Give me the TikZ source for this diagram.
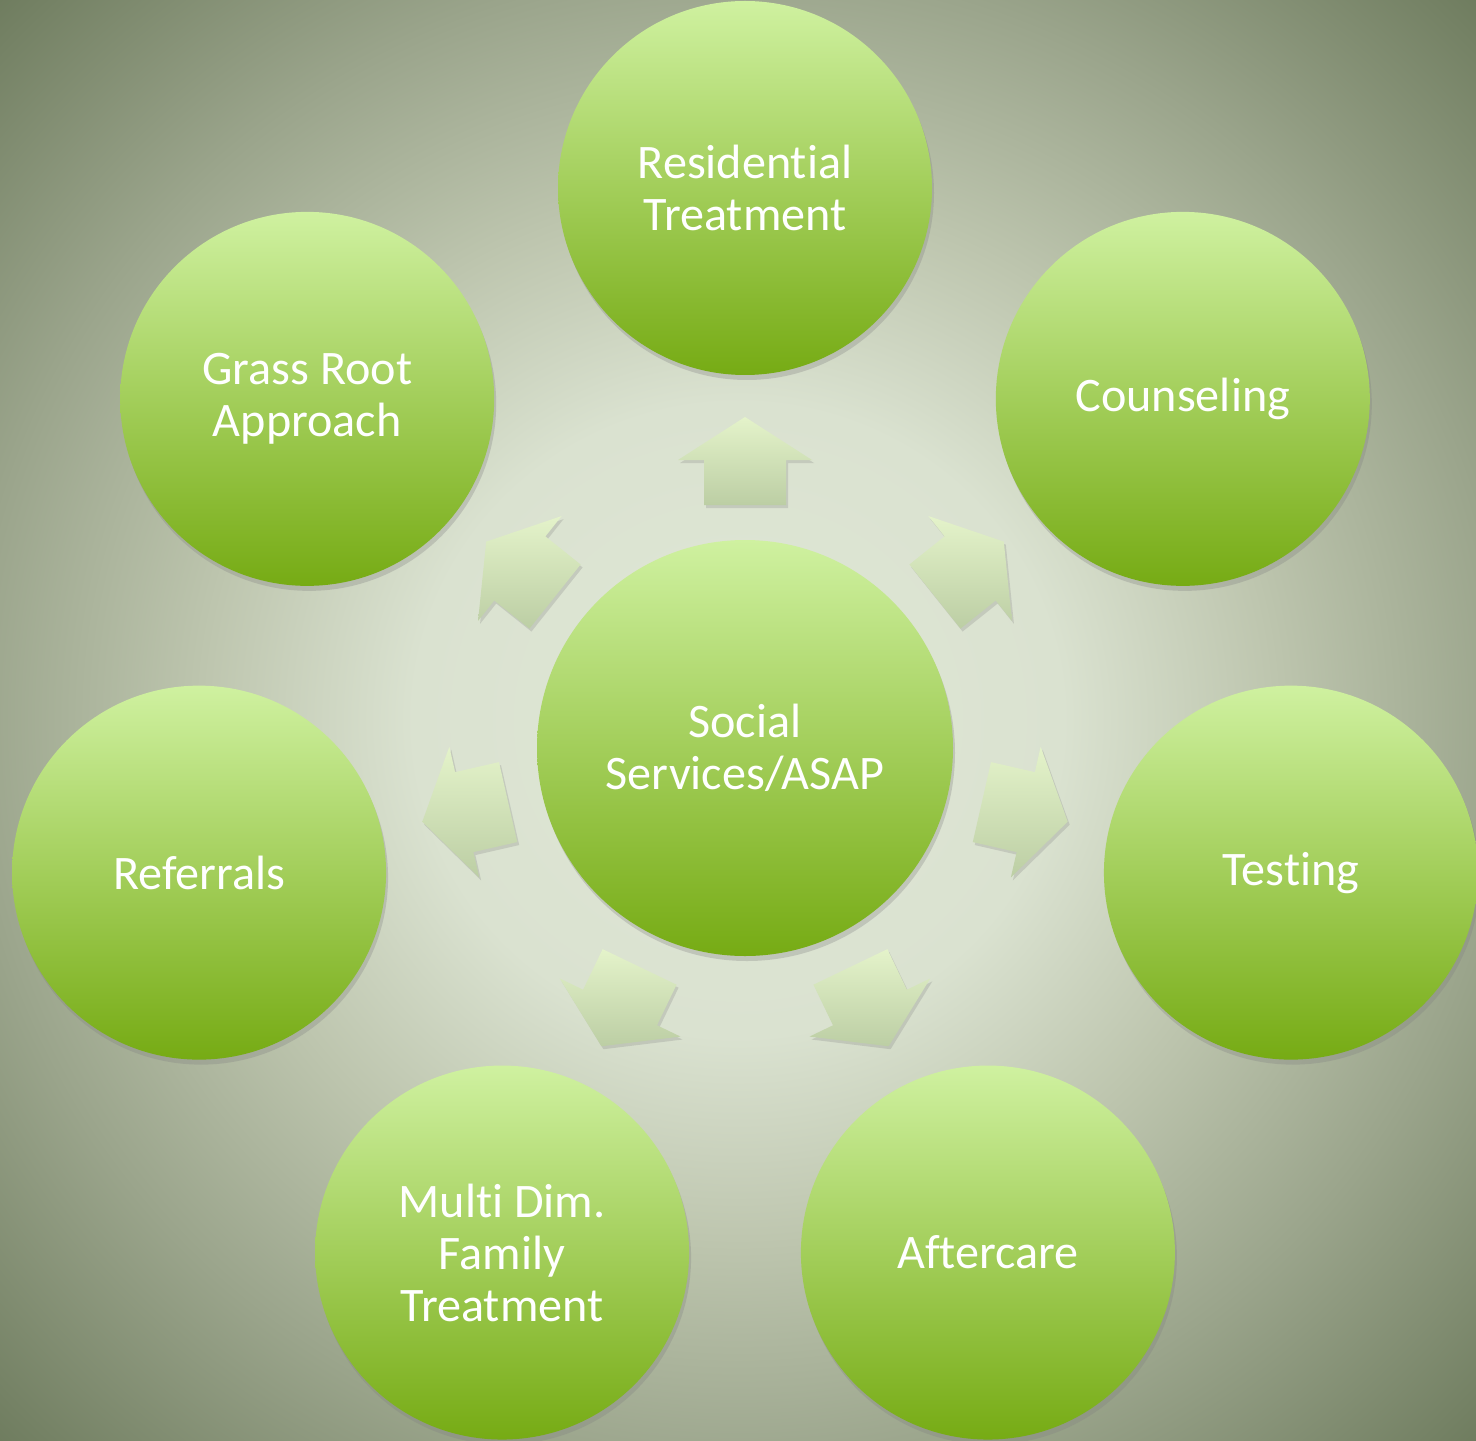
\documentclass[tikz,border=0pt]{standalone}
\usepackage{fontspec}
\setmainfont[Ligatures=NoCommon]{Carlito}
\usetikzlibrary{shadows}
%%
\definecolor{ballTop}{RGB}{207,241,160}
\definecolor{ballBottom}{RGB}{118,171,20}
\definecolor{arrowTop}{RGB}{228,243,202}
\definecolor{arrowBottom}{RGB}{188,206,164}
%% 25bp is half the width of the shaded rectangle
\pgfdeclareradialshading{bgShade}{\pgfpoint{0bp}{0bp}}{%
  rgb(0bp)=(0.878,0.906,0.839);
  rgb(11bp)=(0.855,0.886,0.816);
  rgb(18bp)=(0.745,0.776,0.686);
  rgb(26bp)=(0.608,0.647,0.549);
  rgb(36bp)=(0.424,0.478,0.361);
  rgb(50bp)=(0.424,0.478,0.361)}

\begin{document}
\begin{tikzpicture}[%%
  ballStyle/.style={circle,inner sep=0pt,align=center,text=white,%%
    font=\fontsize{13.7}{14.8}\selectfont,%%
    top color=ballTop,bottom color=ballBottom,%%
    drop shadow={shadow xshift=0.02cm,shadow yshift=-0.05cm,opacity=0.3}},%%
  hubStyle/.style={ballStyle,minimum size=2*\rhub cm},%%
  rimStyle/.style={ballStyle,minimum size=2*\rrim cm},%%
  arrowStyle/.style={top color=arrowTop,bottom color=arrowBottom,%%
    drop shadow={shadow xshift=0.02cm,shadow yshift=-0.03cm,opacity=0.25}}%%
]
%%
%%
\pgfmathsetmacro{\rhub}{2.08}  %% radius of the middle circle
\pgfmathsetmacro{\rrim}{1.87}  %% radius of the outer circles
\pgfmathsetmacro{\dist}{5.60}  %% distance from middle to outer circles
\pgfmathsetmacro{\tail}{2.43}  %% arrow: start of the shaft
\pgfmathsetmacro{\neck}{2.88}  %% arrow: start of the head
\pgfmathsetmacro{\tip}{3.31}   %% arrow: the point
\pgfmathsetmacro{\shaft}{0.41} %% arrow: half width of the shaft
\pgfmathsetmacro{\head}{0.67}  %% arrow: half width of the head
%%
%% Background: shade first.
\shade[shading=bgShade] (-7.45,-6.92) rectangle (7.31,7.48);
\useasboundingbox (-7.45,-6.92) rectangle (7.31,7.48);
%%
%% The block arrows, one for each outer circle.
\foreach \a in {90,38.57,-12.86,-64.29,-115.71,-167.14,141.43} {
  \begin{scope}[rotate=\a]
    \shade[arrowStyle] (\tail,-\shaft) -- (\neck,-\shaft) -- (\neck,-\head)
      -- (\tip,0) -- (\neck,\head) -- (\neck,\shaft) -- (\tail,\shaft) -- cycle;
  \end{scope}
}
%%
%% The middle circle.
\node[hubStyle] (hub) at (0,0) {Social\\Services/ASAP};
%%
%% The outer circles, clockwise from the top.
\node[rimStyle] (residential) at (90:\dist) {Residential\\Treatment};
\node[rimStyle] (counseling) at (38.57:\dist) {Counseling};
\node[rimStyle] (testing) at (-12.86:\dist) {Testing};
\node[rimStyle] (aftercare) at (-64.29:\dist) {Aftercare};
\node[rimStyle] (family) at (-115.71:\dist) {Multi Dim.\\Family\\Treatment};
\node[rimStyle] (referrals) at (-167.14:\dist) {Referrals};
\node[rimStyle] (grassroot) at (141.43:\dist) {Grass Root\\Approach};
\end{tikzpicture}
\end{document}
